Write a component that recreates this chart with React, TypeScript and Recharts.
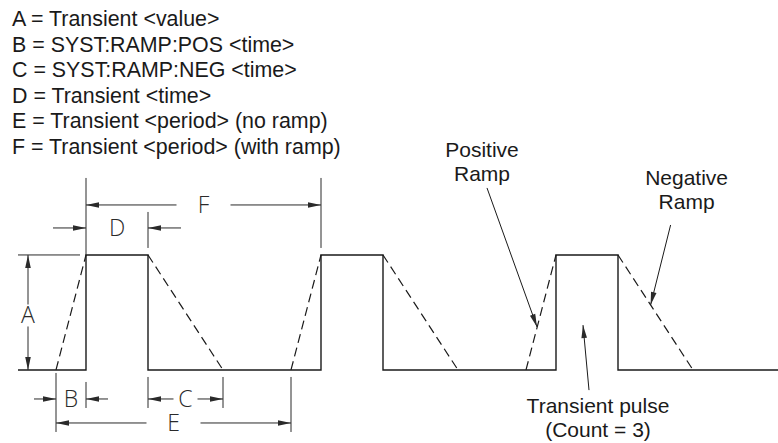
import React from "react";
import { LineChart, Line, XAxis, YAxis, ReferenceLine, ReferenceDot } from "recharts";

const INK = "#1a1a1a";
const DIM = "#2a2a2a";
const FONT = "'Liberation Sans', Arial, sans-serif";
const CAD_FONT = "'Open Sans', 'Liberation Sans', sans-serif";

const legendLines = [
  "A = Transient <value>",
  "B = SYST:RAMP:POS <time>",
  "C = SYST:RAMP:NEG <time>",
  "D = Transient <time>",
  "E = Transient <period> (no ramp)",
  "F = Transient <period> (with ramp)",
];

// time in arbitrary units, level 0 = idle, 1 = transient value (A)
const pulseTimes = [-3.8, 3, 3, 9.2, 9.2, 26.5, 26.5, 32.7, 32.7, 50, 50, 56.2, 56.2, 72.2];
const pulseLevels = [0, 0, 1, 1, 0, 0, 1, 1, 0, 0, 1, 1, 0, 0];

const rampUpStart = [0, 23.5, 47];
const rampUpEnd = [3, 26.5, 50];
const rampDownStart = [9.2, 32.7, 56.2];
const rampDownEnd = [16.7, 40.2, 63.7];

const timeDomain = [-5.6, 72.2];
const levelDomain = [-0.635, 3.217];

const pulseData = pulseTimes.map((t, i) => ({ t, v: pulseLevels[i] }));
const ramps = [
  ...rampUpStart.map((t, i) => [{ t, v: 0 }, { t: rampUpEnd[i], v: 1 }]),
  ...rampDownStart.map((t, i) => [{ t, v: 1 }, { t: rampDownEnd[i], v: 0 }]),
];

type Dim = {
  label: string;
  t1: number;
  t2: number;
  level: number;
  dy: number;
  inside: boolean;
  gap?: number;
  tail?: number;
  ext1: number[] | null;
  ext2: number[] | null;
};

const dims: Dim[] = [
  { label: "B", t1: rampUpStart[0], t2: rampUpEnd[0], level: 0, dy: 29, inside: false, tail: 22, ext1: null, ext2: [12, 38] },
  { label: "C", t1: rampDownStart[0], t2: rampDownEnd[0], level: 0, dy: 29, inside: true, gap: 12, ext1: [7, 38], ext2: [7, 38] },
  { label: "E", t1: rampUpStart[0], t2: rampUpStart[1], level: 0, dy: 53, inside: true, gap: 27, ext1: [3, 62], ext2: [7, 62] },
  { label: "D", t1: rampUpEnd[0], t2: rampDownStart[0], level: 1, dy: -27, inside: false, tail: 33, ext1: null, ext2: [-43, -7] },
  { label: "F", t1: rampUpEnd[0], t2: rampUpEnd[1], level: 1, dy: -50, inside: true, gap: 27, ext1: [-77, 0], ext2: [-77, -7] },
];

type Callout = { lines: string[]; t: number; v: number; tail: number[]; text: number[] };

const callouts: Callout[] = [
  { lines: ["Positive", "Ramp"], t: 48.1, v: 0.374, tail: [-50, -139], text: [-55, -177] },
  { lines: ["Negative", "Ramp"], t: 59.46, v: 0.565, tail: [20, -80], text: [36, -127] },
  { lines: ["Transient pulse", "(Count = 3)"], t: 52.7, v: 0.39, tail: [6, 65], text: [15, 80] },
];

function head(x: number, y: number, dx: number, dy: number) {
  const len = 13;
  const w = 2.8;
  const bx = x - dx * len;
  const by = y - dy * len;
  const px = -dy * w;
  const py = dx * w;
  return (
    <polygon
      points={`${x},${y} ${bx + px},${by + py} ${bx - px},${by - py}`}
      fill={DIM}
    />
  );
}

function cadLabel(x: number, y: number, s: string) {
  return (
    <text x={x} y={y + 8} textAnchor="middle" fontFamily={CAD_FONT} fontWeight={300} fontSize={23} fill={DIM}>
      {s}
    </text>
  );
}

const hDimShape = (d: Dim) => (p: any) => {
  const xa = Math.min(p.x1, p.x2);
  const xb = Math.max(p.x1, p.x2);
  const y0 = p.y1;
  const y = y0 + d.dy;
  const cx = (xa + xb) / 2;
  const line = { stroke: DIM, strokeWidth: 1 };
  return (
    <g>
      {d.ext1 && <line x1={xa} x2={xa} y1={y0 + d.ext1[0]} y2={y0 + d.ext1[1]} {...line} />}
      {d.ext2 && <line x1={xb} x2={xb} y1={y0 + d.ext2[0]} y2={y0 + d.ext2[1]} {...line} />}
      {d.inside ? (
        <>
          <line x1={xa} x2={cx - (d.gap || 0)} y1={y} y2={y} {...line} />
          <line x1={cx + (d.gap || 0)} x2={xb} y1={y} y2={y} {...line} />
          {head(xa, y, -1, 0)}
          {head(xb, y, 1, 0)}
        </>
      ) : (
        <>
          <line x1={xa - (d.tail || 0)} x2={xa} y1={y} y2={y} {...line} />
          <line x1={xb} x2={xb + (d.tail || 0)} y1={y} y2={y} {...line} />
          {head(xa, y, 1, 0)}
          {head(xb, y, -1, 0)}
        </>
      )}
      {cadLabel(cx, y, d.label)}
    </g>
  );
};

const vDimShape = (p: any) => {
  const x = p.x1;
  const ya = Math.min(p.y1, p.y2);
  const yb = Math.max(p.y1, p.y2);
  const cy = (ya + yb) / 2 + 3;
  const line = { stroke: DIM, strokeWidth: 1 };
  return (
    <g>
      <line x1={x} x2={x} y1={ya} y2={cy - 11} {...line} />
      <line x1={x} x2={x} y1={cy + 11} y2={yb} {...line} />
      {head(x, ya, 0, -1)}
      {head(x, yb, 0, 1)}
      {cadLabel(x, cy, "A")}
    </g>
  );
};

const calloutShape = (c: Callout) => (p: any) => {
  const { cx, cy } = p;
  const tx = cx + c.tail[0];
  const ty = cy + c.tail[1];
  const len = Math.hypot(cx - tx, cy - ty);
  return (
    <g>
      <line x1={tx} y1={ty} x2={cx} y2={cy} stroke={INK} strokeWidth={1} />
      {head(cx, cy, (cx - tx) / len, (cy - ty) / len)}
      {c.lines.map((s, i) => (
        <text
          key={s}
          x={cx + c.text[0]}
          y={cy + c.text[1] + 7.5 + i * 24}
          textAnchor="middle"
          fontFamily={FONT}
          fontSize={21}
          fill={INK}
        >
          {s}
        </text>
      ))}
    </g>
  );
};

export default function App() {
  return (
    <div style={{ position: "absolute", left: 0, top: 0, width: 778, height: 443, background: "#fff" }}>
      <div
        style={{
          position: "absolute",
          left: 12,
          top: 7,
          fontFamily: FONT,
          fontSize: 21.4,
          lineHeight: "25.5px",
          color: INK,
          whiteSpace: "pre",
        }}
      >
        {legendLines.map((s) => (
          <div key={s}>{s}</div>
        ))}
      </div>
      <LineChart width={778} height={443} margin={{ top: 0, right: 0, bottom: 0, left: 0 }}>
        <XAxis type="number" dataKey="t" domain={timeDomain} allowDataOverflow hide />
        <YAxis type="number" domain={levelDomain} allowDataOverflow hide />
        <Line
          data={pulseData}
          dataKey="v"
          type="linear"
          stroke={INK}
          strokeWidth={1.4}
          dot={false}
          activeDot={false}
          isAnimationActive={false}
        />
        {ramps.map((r, i) => (
          <Line
            key={i}
            data={r}
            dataKey="v"
            type="linear"
            stroke={INK}
            strokeWidth={1.2}
            strokeDasharray="9 5"
            dot={false}
            activeDot={false}
            isAnimationActive={false}
          />
        ))}
        <ReferenceLine
          segment={[{ x: -3.8, y: 1 }, { x: 2.4, y: 1 }]}
          stroke={DIM}
          strokeWidth={1}
          ifOverflow="visible"
        />
        <ReferenceLine
          segment={[{ x: -2.8, y: 0 }, { x: -2.8, y: 1 }]}
          ifOverflow="visible"
          shape={vDimShape}
        />
        {dims.map((d) => (
          <ReferenceLine
            key={d.label}
            segment={[{ x: d.t1, y: d.level }, { x: d.t2, y: d.level }]}
            ifOverflow="visible"
            shape={hDimShape(d)}
          />
        ))}
        {callouts.map((c) => (
          <ReferenceDot
            key={c.lines[0]}
            x={c.t}
            y={c.v}
            r={0}
            ifOverflow="visible"
            shape={calloutShape(c)}
          />
        ))}
      </LineChart>
    </div>
  );
}
